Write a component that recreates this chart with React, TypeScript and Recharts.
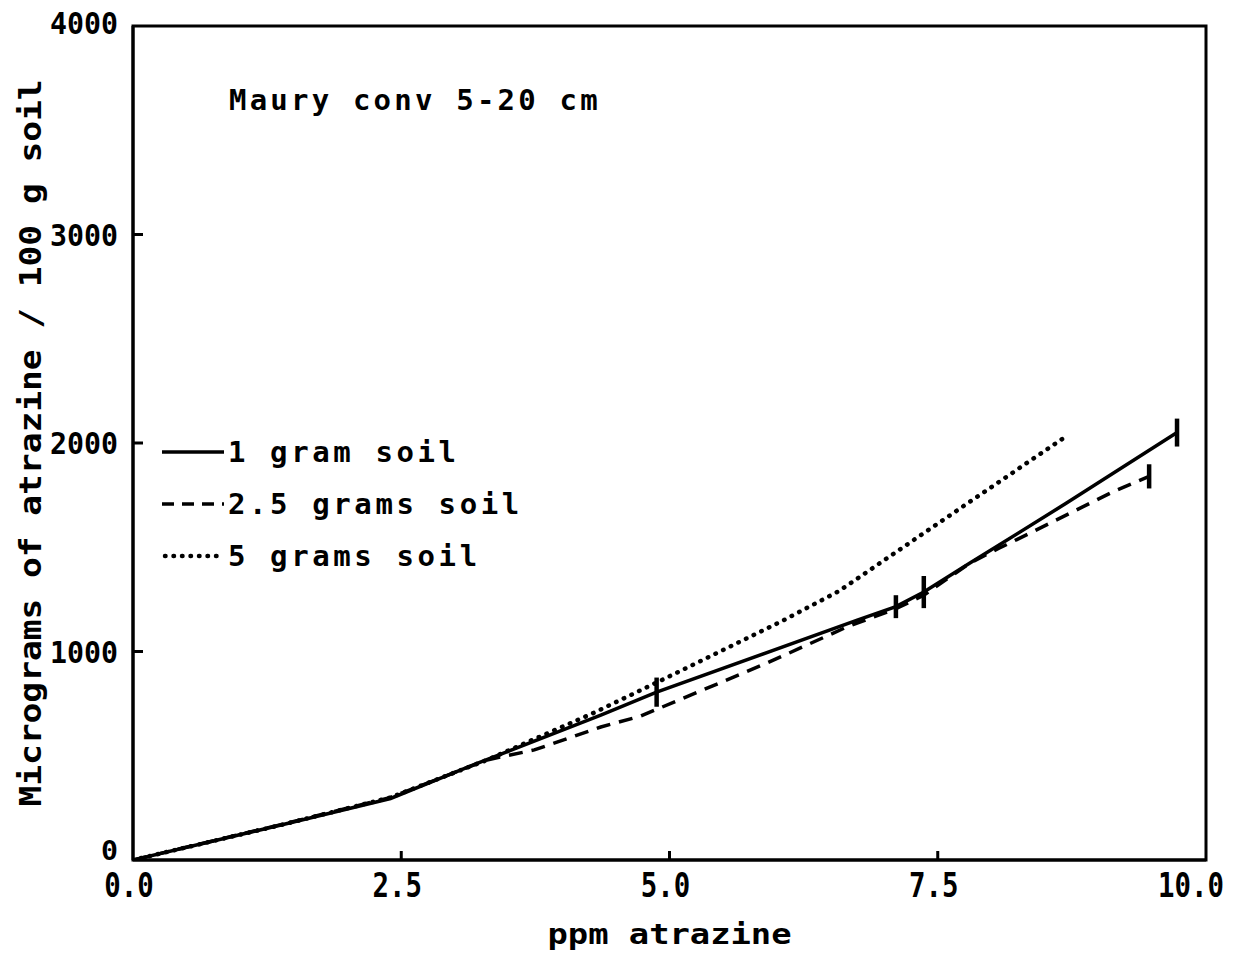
import React from 'react';
import {
  LineChart,
  Line,
  XAxis,
  YAxis,
  ErrorBar,
  ReferenceArea,
} from 'recharts';

// ppm atrazine (x) vs micrograms atrazine / 100 g soil (y)
const oneGramX = [0, 1.38, 2.4, 3.12, 4.36, 4.88, 6.75, 7.11, 7.37, 7.8, 8.7, 9.73];
const oneGramY = [0, 168, 295, 446, 695, 805, 1150, 1215, 1285, 1424, 1712, 2050];
const oneGramErr = [null, null, null, null, null, 70, null, 55, 77, null, null, 67];

const twoHalfX = [0, 1.38, 2.4, 3.3, 3.74, 4.36, 4.73, 5.91, 6.65, 7.11, 7.37, 7.8, 8.07, 8.38, 9.13, 9.47];
const twoHalfY = [0, 170, 300, 480, 528, 638, 690, 945, 1117, 1205, 1270, 1424, 1495, 1573, 1765, 1840];
const twoHalfErr = [null, null, null, null, null, null, null, null, null, null, null, null, null, null, null, 58];

const fiveGramX = [0, 1.38, 2.4, 3.3, 4.27, 4.88, 6.03, 6.58, 7.55, 8.69];
const fiveGramY = [0, 168, 300, 480, 700, 851, 1141, 1290, 1631, 2030];

const xTicks = [0, 2.5, 5, 7.5, 10];
const yTicks = [0, 1000, 2000, 3000, 4000];

const legendLabels = ['1 gram soil', '2.5 grams soil', '5 grams soil'];

const FONT = '"DejaVu Sans Mono", monospace';

const toPoints = (xs: number[], ys: number[], errs?: (number | null)[]) =>
  xs.map((x, i) => ({ x, y: ys[i], err: errs ? errs[i] ?? undefined : undefined }));

const series = [
  { name: legendLabels[0], data: toPoints(oneGramX, oneGramY, oneGramErr), dash: undefined, width: 3.5, cap: 'butt', err: true },
  { name: legendLabels[1], data: toPoints(twoHalfX, twoHalfY, twoHalfErr), dash: '14 9', width: 3.5, cap: 'butt', err: true },
  { name: legendLabels[2], data: toPoints(fiveGramX, fiveGramY), dash: '0.5 8', width: 4.5, cap: 'round', err: false },
];

const XTick = (props: any) => {
  const { x, y, payload } = props;
  const v = payload.value as number;
  const label = v.toFixed(1);
  const shift = v === 10 ? -15 : -4;
  return (
    <g>
      {v > 0 && v < 10 && <line x1={x} x2={x} y1={y} y2={y - 9} stroke="#000" strokeWidth={3} />}
      <text
        x={x + shift}
        y={y + 25}
        textAnchor="middle"
        dominantBaseline="central"
        fontFamily={FONT}
        fontWeight="bold"
        fontSize={34}
        textLength={label.length * 16.5}
        lengthAdjust="spacingAndGlyphs"
        fill="#000"
      >
        {label}
      </text>
    </g>
  );
};

const YTick = (props: any) => {
  const { x, y, payload } = props;
  const v = payload.value as number;
  const label = String(v);
  return (
    <g>
      {v > 0 && v < 4000 && <line x1={x} x2={x + 10} y1={y} y2={y} stroke="#000" strokeWidth={3} />}
      <text
        x={x - 15}
        y={v === 0 ? y - 9 : v === 4000 ? y - 3 : y}
        textAnchor="end"
        dominantBaseline="central"
        fontFamily={FONT}
        fontWeight="bold"
        fontSize={v === 0 ? 26 : 31}
        textLength={label.length * 17}
        lengthAdjust="spacingAndGlyphs"
        fill="#000"
      >
        {label}
      </text>
    </g>
  );
};

export default function App() {
  return (
    <div style={{ position: 'absolute', left: 0, top: 0, width: 1239, height: 955, background: '#fff' }}>
      <LineChart width={1239} height={955} margin={{ top: 26, right: 33, left: 33, bottom: 35 }}>
        <XAxis
          type="number"
          dataKey="x"
          domain={[0, 10]}
          ticks={xTicks}
          tick={<XTick />}
          tickSize={0}
          tickMargin={0}
          tickLine={false}
          axisLine={{ stroke: '#000', strokeWidth: 3 }}
          height={60}
          allowDataOverflow
          label={{
            content: (p: any) => (
              <text
                x={p.viewBox.x + p.viewBox.width / 2}
                y={p.viewBox.y + 84}
                textAnchor="middle"
                fontFamily={FONT}
                fontWeight="bold"
                fontSize={29}
                textLength={244}
                lengthAdjust="spacingAndGlyphs"
                fill="#000"
              >
                ppm atrazine
              </text>
            ),
          }}
        />
        <YAxis
          type="number"
          dataKey="y"
          domain={[0, 4000]}
          ticks={yTicks}
          tick={<YTick />}
          tickSize={0}
          tickMargin={0}
          tickLine={false}
          axisLine={{ stroke: '#000', strokeWidth: 3 }}
          width={100}
          allowDataOverflow
          label={{
            content: (p: any) => {
              const cx = p.viewBox.x - 3;
              const cy = p.viewBox.y + p.viewBox.height / 2;
              return (
                <text
                  x={cx}
                  y={cy}
                  transform={`rotate(-90 ${cx} ${cy})`}
                  textAnchor="middle"
                  dominantBaseline="central"
                  fontFamily={FONT}
                  fontWeight="bold"
                  fontSize={31}
                  textLength={727}
                  lengthAdjust="spacingAndGlyphs"
                  fill="#000"
                >
                  Micrograms of atrazine / 100 g soil
                </text>
              );
            },
          }}
        />
        <ReferenceArea x1={0} x2={10} y1={0} y2={4000} fill="none" stroke="#000" strokeWidth={3} ifOverflow="visible" />
        {series.map((s) => (
          <Line
            key={s.name}
            data={s.data}
            dataKey="y"
            name={s.name}
            type="linear"
            stroke="#000"
            strokeWidth={s.width}
            strokeDasharray={s.dash}
            strokeLinecap={s.cap as any}
            dot={false}
            activeDot={false}
            isAnimationActive={false}
          >
            {s.err && <ErrorBar dataKey="err" direction="y" width={0} stroke="#000" strokeWidth={4.5} />}
          </Line>
        ))}
      </LineChart>

      <div
        style={{
          position: 'absolute',
          left: 229,
          top: 83,
          fontFamily: FONT,
          fontWeight: 'bold',
          fontSize: 29,
          letterSpacing: 3.2,
          whiteSpace: 'nowrap',
        }}
      >
        Maury conv 5-20 cm
      </div>

      <div style={{ position: 'absolute', left: 162, top: 426, fontFamily: FONT, fontWeight: 'bold', fontSize: 29 }}>
        {series.map((s) => (
          <div key={s.name} style={{ display: 'flex', alignItems: 'center', height: 52, whiteSpace: 'nowrap' }}>
            <svg width={62} height={10} style={{ marginRight: 4 }}>
              <line
                x1={s.cap === 'round' ? 3 : 0}
                x2={62}
                y1={5}
                y2={5}
                stroke="#000"
                strokeWidth={s.width}
                strokeDasharray={s.dash ? (s.cap === 'round' ? s.dash : '12 8') : undefined}
                strokeLinecap={s.cap as any}
              />
            </svg>
            <span style={{ letterSpacing: 3.6 }}>{s.name}</span>
          </div>
        ))}
      </div>
    </div>
  );
}
